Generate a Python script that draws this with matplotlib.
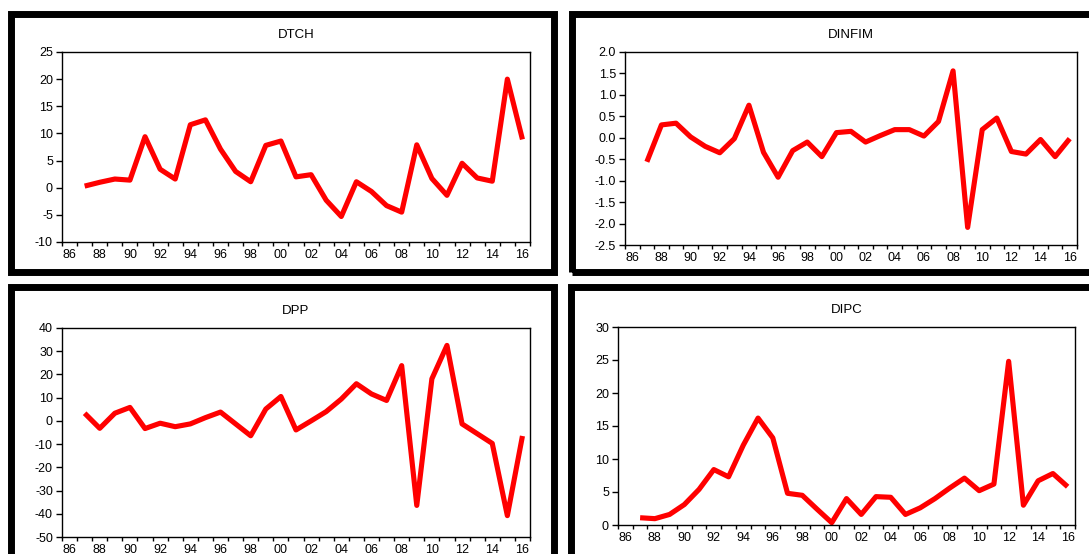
import matplotlib
matplotlib.use("Agg")
import matplotlib.pyplot as plt
from matplotlib.patches import Rectangle
from matplotlib.ticker import FixedLocator, FixedFormatter

plt.rcParams['font.family'] = ['Liberation Sans', 'DejaVu Sans']

years = list(range(1987, 2017))

dtch = [0.3, 1.0, 1.6, 1.4, 9.4, 3.4, 1.6, 11.6, 12.5, 7.1,
        3.0, 1.1, 7.8, 8.6, 2.0, 2.4, -2.3, -5.3, 1.1, -0.7,
        -3.3, -4.5, 7.9, 1.7, -1.4, 4.5, 1.8, 1.2, 20.0, 8.9]

dinfim = [-0.56, 0.30, 0.34, 0.02, -0.20, -0.35, -0.02, 0.76, -0.34, -0.92,
          -0.30, -0.10, -0.44, 0.12, 0.15, -0.10, 0.05, 0.19, 0.19, 0.04,
          0.38, 1.56, -2.09, 0.19, 0.46, -0.32, -0.38, -0.04, -0.44, -0.02]

dpp = [3.3, -3.2, 3.3, 5.8, -3.3, -1.0, -2.5, -1.3, 1.4, 3.8,
       -1.3, -6.4, 5.1, 10.5, -3.9, 0.0, 4.0, 9.4, 16.0, 11.6,
       8.8, 23.8, -36.4, 18.1, 32.5, -1.3, -5.5, -9.7, -40.8, -6.5]

dipc = [1.1, 0.96, 1.6, 3.1, 5.4, 8.4, 7.3, 12.1, 16.2, 13.2,
        4.8, 4.5, 2.4, 0.35, 4.0, 1.6, 4.3, 4.2, 1.6, 2.6,
        4.0, 5.6, 7.1, 5.2, 6.2, 24.8, 3.0, 6.7, 7.8, 5.8]

titles = ["DTCH", "DINFIM", "DPP", "DIPC"]
series = [dtch, dinfim, dpp, dipc]
yticks = [
    [-10, -5, 0, 5, 10, 15, 20, 25],
    [-2.5, -2.0, -1.5, -1.0, -0.5, 0.0, 0.5, 1.0, 1.5, 2.0],
    [-50, -40, -30, -20, -10, 0, 10, 20, 30, 40],
    [0, 5, 10, 15, 20, 25, 30],
]
ytick_labels = [
    ["-10", "-5", "0", "5", "10", "15", "20", "25"],
    ["-2.5", "-2.0", "-1.5", "-1.0", "-0.5", "0.0", "0.5", "1.0", "1.5", "2.0"],
    ["-50", "-40", "-30", "-20", "-10", "0", "10", "20", "30", "40"],
    ["0", "5", "10", "15", "20", "25", "30"],
]
xlabel_years = list(range(1986, 2017, 2))
xlabel_text = ["%02d" % (y % 100) for y in xlabel_years]

W, H = 1089, 554
fig = plt.figure(figsize=(W / 100, H / 100), dpi=100)

# axes boxes in pixels: left, right, top, bottom
boxes = [
    (62, 530, 52, 242),
    (625, 1077, 52, 245),
    (62, 530, 328, 537),
    (618, 1075, 327, 525),
]

# outer frames (centerline pixels): x0, x1, y0(top), y1(bottom)
frames = [
    (10.5, 553.5, 13.5, 271.5),
    (571.5, 1110, 13.5, 271.5),
    (10.5, 553.5, 286.5, 580),
    (570.5, 1110, 286.5, 580),
]
for (x0, x1, t, b) in frames:
    r = Rectangle((x0 / W, 1 - b / H), (x1 - x0) / W, (b - t) / H,
                  transform=fig.transFigure, fill=False, edgecolor='black',
                  linewidth=5.0, joinstyle='miter', clip_on=False)
    fig.add_artist(r)

for i, (l, r, t, b) in enumerate(boxes):
    ax = fig.add_axes([l / W, 1 - b / H, (r - l) / W, (b - t) / H])
    ax.plot(years, series[i], color='#ff0000', linewidth=3.7,
            solid_joinstyle='round', solid_capstyle='butt')
    ax.set_xlim(1985.5, 2016.5)
    ax.set_ylim(yticks[i][0], yticks[i][-1])
    ax.yaxis.set_major_locator(FixedLocator(yticks[i]))
    ax.yaxis.set_major_formatter(FixedFormatter(ytick_labels[i]))
    ax.xaxis.set_major_locator(FixedLocator(xlabel_years))
    ax.xaxis.set_major_formatter(FixedFormatter(xlabel_text))
    ax.xaxis.set_minor_locator(FixedLocator([y - 0.5 for y in range(1986, 2018)]))
    ax.tick_params(axis='x', which='major', length=0, pad=5, labelsize=9)
    ax.tick_params(axis='x', which='minor', length=3, width=1, direction='out')
    ax.tick_params(axis='y', which='major', length=4.5, width=1, direction='out',
                   pad=2, labelsize=9)
    for s in ax.spines.values():
        s.set_linewidth(1.0)
        s.set_color('black')
    ax.set_title(titles[i], fontsize=9.5, pad=10)

fig.savefig("out.png", dpi=100)
